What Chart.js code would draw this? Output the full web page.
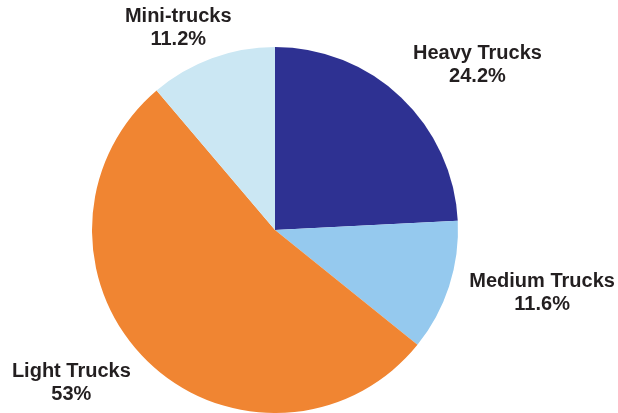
<!DOCTYPE html>
<html>
<head>
<meta charset="utf-8">
<script src="https://cdn.jsdelivr.net/npm/chart.js@4/dist/chart.umd.min.js"></script>
<style>
  html, body { margin: 0; padding: 0; background: #ffffff; }
  #wrap { width: 618px; height: 413px; }
</style>
</head>
<body>
<div id="wrap"><canvas id="pie" width="618" height="413"></canvas></div>
<script>
// Truck segments and their shares (percent)
const categories = ['Heavy Trucks', 'Medium Trucks', 'Light Trucks', 'Mini-trucks'];
const shares = [24.2, 11.6, 53, 11.2];
const shareLabels = ['24.2%', '11.6%', '53%', '11.2%'];

const sliceColors = ['#2E3192', '#95C9EE', '#F08532', '#CBE7F3'];
// Label placement: distance beyond the rim along the slice's mid angle, then a small nudge
const labelGap = 60;
const labelNudge = [[35, 11], [36, -12], [-34, -21], [-13, 26]];

const outsideLabels = {
  id: 'outsideLabels',
  afterDatasetsDraw(chart) {
    const ctx = chart.ctx;
    const meta = chart.getDatasetMeta(0);
    ctx.save();
    ctx.fillStyle = '#231F20';
    ctx.font = 'bold 20px "Liberation Sans", Arial, sans-serif';
    ctx.textAlign = 'center';
    ctx.textBaseline = 'middle';
    meta.data.forEach((arc, i) => {
      const p = arc.getProps(['x', 'y', 'startAngle', 'endAngle', 'outerRadius'], true);
      const mid = (p.startAngle + p.endAngle) / 2;
      const d = p.outerRadius + labelGap;
      const cx = p.x + Math.cos(mid) * d + labelNudge[i][0];
      const cy = p.y + Math.sin(mid) * d + labelNudge[i][1];
      ctx.fillText(categories[i], cx, cy - 11.5);
      ctx.fillText(shareLabels[i], cx, cy + 11.5);
    });
    ctx.restore();
  }
};

new Chart(document.getElementById('pie'), {
  type: 'pie',
  data: {
    labels: categories,
    datasets: [{
      data: shares,
      backgroundColor: sliceColors,
      borderWidth: 0
    }]
  },
  options: {
    responsive: false,
    animation: false,
    layout: { padding: { top: 47, bottom: 0, left: 92, right: 160 } },
    plugins: {
      legend: { display: false },
      tooltip: { enabled: false }
    }
  },
  plugins: [outsideLabels]
});
</script>
</body>
</html>
